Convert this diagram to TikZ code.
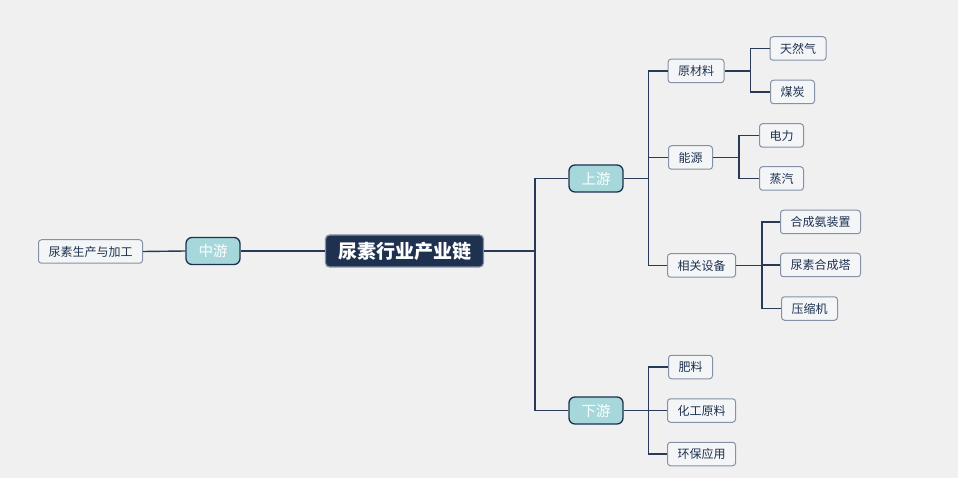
\documentclass[tikz,border=0pt]{standalone}
\usepackage{fontspec}
\setmainfont{Noto Sans CJK SC}
\usetikzlibrary{positioning}
\definecolor{monFond}{RGB}{240,240,240}
\definecolor{monMarine}{RGB}{30,50,80}
\definecolor{monTrait}{RGB}{40,58,88}
\definecolor{monTurquoise}{RGB}{166,216,219}
\definecolor{monGris}{RGB}{132,145,166}
\definecolor{monBlanc}{RGB}{244,245,247}

\begin{document}
\begin{tikzpicture}[x=1pt,y=-1pt,
    racine/.style={draw=monGris, line width=1.2pt, fill=monMarine, text=white, rounded corners=4pt,
        font=\fontsize{19}{21}\selectfont\bfseries, inner xsep=12.5pt, minimum height=32pt},
    branche/.style={draw=monMarine, line width=1.3pt, fill=monTurquoise, text=white, rounded corners=6pt,
        font=\fontsize{14.5}{16}\selectfont, inner xsep=12.5pt, minimum height=27pt},
    feuille/.style={draw=monGris, line width=1pt, fill=monBlanc, text=monMarine, rounded corners=3pt,
        font=\fontsize{12}{14}\selectfont, inner xsep=10pt, minimum height=23.5pt},
    lien/.style={draw=monTrait, line width=1.4pt},
    ]
    % Fond
    \fill[monFond] (0,0) rectangle (958,478);

    % Centre et milieu
    \node[racine] (chaine) at (404.5,251) {尿素行业产业链};
    \node[branche] (milieu) at (213,251) {中游};
    \node[feuille] (prod) at (90.5,251.5) {尿素生产与加工};

    % Amont et aval
    \node[branche] (amont) at (596,178.5) {上游};
    \node[branche] (aval) at (596,410.5) {下游};

    % Amont : enfants
    \node[feuille] (matiere) at (696,71) {原材料};
    \node[feuille] (energie) at (690.5,157.5) {能源};
    \node[feuille] (equip) at (701.5,265.5) {相关设备};

    \node[feuille] (gaz) at (798,48.5) {天然气};
    \node[feuille] (charbon) at (792.5,92) {煤炭};
    \node[feuille] (elec) at (781.5,135.5) {电力};
    \node[feuille] (vapeur) at (781.5,178.5) {蒸汽};
    \node[feuille] (ammoniac) at (820.5,222) {合成氨装置};
    \node[feuille] (tour) at (820.5,265) {尿素合成塔};
    \node[feuille] (compresseur) at (809.5,308.5) {压缩机};

    % Aval : enfants
    \node[feuille] (engrais) at (690.5,367) {肥料};
    \node[feuille] (chimie) at (701.5,410.5) {化工原料};
    \node[feuille] (environ) at (701.5,454) {环保应用};

    % Liens
    \draw[lien] (chaine.west) -- (milieu.east);
    \draw[lien] (milieu.west) -- (prod.east);
    \draw[lien] (chaine.east) -- ++(51,0) |- (amont.west);
    \draw[lien] (chaine.east) -- ++(51,0) |- (aval.west);

    \foreach \enfant in {matiere,energie,equip}
        \draw[lien] (amont.east) -- ++(25,0) |- (\enfant.west);
    \foreach \enfant in {gaz,charbon}
        \draw[lien] (matiere.east) -- ++(26,0) |- (\enfant.west);
    \foreach \enfant in {elec,vapeur}
        \draw[lien] (energie.east) -- ++(26,0) |- (\enfant.west);
    \foreach \enfant in {ammoniac,tour,compresseur}
        \draw[lien] (equip.east) -- ++(26,0) |- (\enfant.west);
    \foreach \enfant in {engrais,chimie,environ}
        \draw[lien] (aval.east) -- ++(25,0) |- (\enfant.west);
\end{tikzpicture}
\end{document}
